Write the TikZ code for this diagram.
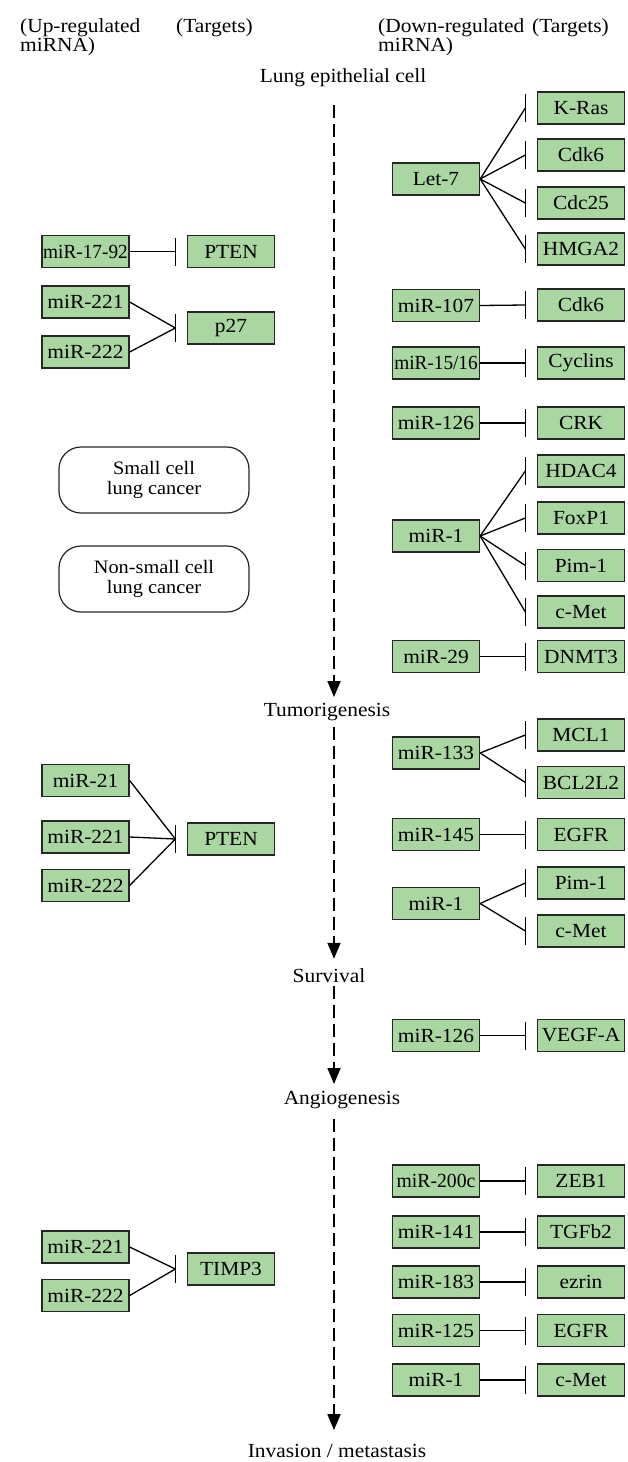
\documentclass[tikz,border=0pt]{standalone}
\usepackage{fontspec}
\setmainfont{Liberation Serif}[FakeStretch=1.07]
\usetikzlibrary{arrows.meta}
\definecolor{keggreen}{RGB}{170,214,162}

\begin{document}
\begin{tikzpicture}[x=1pt,y=-1pt,
    genebox/.style={draw=black!85,line width=1.3pt,fill=keggreen,minimum width=87pt,minimum height=32pt,inner sep=0pt,font=\fontsize{20}{22}\selectfont},
    stagebox/.style={draw=black!85,line width=1.2pt,rounded corners=22pt,minimum width=190pt,minimum height=66pt,align=center,font=\fontsize{19}{20}\selectfont},
    headtext/.style={anchor=north west,align=left,inner sep=0pt,font=\fontsize{20}{19}\selectfont},
    flowtext/.style={inner sep=0pt,font=\fontsize{20}{22}\selectfont},
    flow/.style={line width=1.8pt,dash pattern=on 13pt off 6pt,-{Triangle[width=13pt,length=16pt]}},
    link/.style={line width=1.3pt},
    tbar/.style={line width=1.5pt}]
            \useasboundingbox (0,0) rectangle (627,1462);
            % column headings
            \node[headtext] (uphead) at (20,18) {(Up-regulated\\miRNA)};
            \node[headtext] (uptgt) at (176,18) {(Targets)};
            \node[headtext] (downhead) at (378,18) {(Down-regulated\\miRNA)};
            \node[headtext] (downtgt) at (532,18) {(Targets)};
            % stages
            \coordinate (axis) at (334,0);
            \node[flowtext] (lung) at (343,78) {Lung epithelial cell};
            \node[flowtext] (tumor) at (327,712) {Tumorigenesis};
            \node[flowtext] (surv) at (329,976) {Survival};
            \node[flowtext] (angio) at (342,1100) {Angiogenesis};
            \node[flowtext] (invas) at (337,1451) {Invasion / metastasis};
            \draw[flow,shorten <=18pt,shorten >=6pt] (lung.south -| axis) -- (tumor.north -| axis);
            \draw[flow,shorten <=6pt,shorten >=10pt] (tumor.south -| axis) -- (surv.north -| axis);
            \draw[flow,shorten <=3pt,shorten >=7pt] (surv.south -| axis) -- (angio.north -| axis);
            \draw[flow,shorten <=10pt,shorten >=14pt] (angio.south -| axis) -- (invas.north -| axis);
            % cancer types
            \node[stagebox] (sclc) at (154,480) {Small cell\\lung cancer};
            \node[stagebox] (nsclc) at (154,579) {Non-small cell\\lung cancer};
            % up-regulated miRNA
            \node[genebox] (mir1792) at (85.5,251.5) {\scalebox{0.9}[1]{miR-17-92}};
            \node[genebox] (pten) at (231,251.5) {PTEN};
            \node[genebox] (mir221a) at (85.5,302) {miR-221};
            \node[genebox] (mir222a) at (85.5,352) {miR-222};
            \node[genebox] (p27) at (231,328) {p27};
            \node[genebox] (mir21) at (85.5,780.5) {miR-21};
            \node[genebox] (mir221b) at (85.5,837) {miR-221};
            \node[genebox] (mir222b) at (85.5,885.5) {miR-222};
            \node[genebox] (ptenb) at (231,839) {PTEN};
            \node[genebox] (mir221c) at (85.5,1247) {miR-221};
            \node[genebox] (mir222c) at (85.5,1295.5) {miR-222};
            \node[genebox] (timp3) at (231,1269) {TIMP3};
            % down-regulated miRNA
            \node[genebox] (let7) at (436,179) {Let-7};
            \node[genebox] (kras) at (581,108) {K-Ras};
            \node[genebox] (cdksix) at (581,155) {Cdk6};
            \node[genebox] (cdc25) at (581,203) {Cdc25};
            \node[genebox] (hmga2) at (581,249) {HMGA2};
            \node[genebox] (mir107) at (436,305.5) {miR-107};
            \node[genebox] (cdksixb) at (581,305) {Cdk6};
            \node[genebox] (mir1516) at (436,363) {\scalebox{0.9}[1]{miR-15/16}};
            \node[genebox] (cyclins) at (581,363) {Cyclins};
            \node[genebox] (mir126a) at (436,423) {miR-126};
            \node[genebox] (crk) at (581,423) {CRK};
            \node[genebox] (mir1a) at (436,536) {miR-1};
            \node[genebox] (hdac4) at (581,471) {HDAC4};
            \node[genebox] (foxp1) at (581,518) {FoxP1};
            \node[genebox] (pim1) at (581,565.5) {Pim-1};
            \node[genebox] (cmet) at (581,612) {c-Met};
            \node[genebox] (mir29) at (436,656.5) {miR-29};
            \node[genebox] (dnmt3) at (581,656.5) {DNMT3};
            \node[genebox] (mir133) at (436,753) {miR-133};
            \node[genebox] (mcl1) at (581,735) {MCL1};
            \node[genebox] (bcl2l2) at (581,782.5) {BCL2L2};
            \node[genebox] (mir145) at (436,834.5) {miR-145};
            \node[genebox] (egfr) at (581,834.5) {EGFR};
            \node[genebox] (mir1b) at (436,903.5) {miR-1};
            \node[genebox] (pim1b) at (581,883) {Pim-1};
            \node[genebox] (cmetb) at (581,931) {c-Met};
            \node[genebox] (mir126b) at (436,1035.5) {miR-126};
            \node[genebox] (vegfa) at (581,1035.5) {VEGF-A};
            \node[genebox] (mir200c) at (436,1181) {\scalebox{0.92}[1]{miR-200c}};
            \node[genebox] (zeb1) at (581,1181) {ZEB1};
            \node[genebox] (mir141) at (436,1232) {miR-141};
            \node[genebox] (tgfb2) at (581,1232) {TGFb2};
            \node[genebox] (mir183) at (436,1282) {miR-183};
            \node[genebox] (ezrin) at (581,1282) {ezrin};
            \node[genebox] (mir125) at (436,1330.5) {miR-125};
            \node[genebox] (egfrb) at (581,1330.5) {EGFR};
            \node[genebox] (mir1c) at (436,1380) {miR-1};
            \node[genebox] (cmetc) at (581,1380) {c-Met};
            % inhibition bars in front of each target
            \foreach \t in {pten,p27,ptenb,timp3,kras,cdksix,cdc25,hmga2,cdksixb,cyclins,crk,hdac4,foxp1,pim1,cmet,dnmt3,mcl1,bcl2l2,egfr,pim1b,cmetb,vegfa,zeb1,tgfb2,ezrin,egfrb,cmetc}{
                \coordinate (\t-bar) at ([xshift=-11.5pt]\t.west);
                \draw[tbar] ([yshift=14pt]\t-bar) -- ([yshift=-14pt]\t-bar);
            }
            % miRNA -| target
            \foreach \m/\t in {mir1792/pten,mir221a/p27,mir222a/p27,mir21/ptenb,mir221b/ptenb,mir222b/ptenb,mir221c/timp3,mir222c/timp3,
                let7/kras,let7/cdksix,let7/cdc25,let7/hmga2,mir107/cdksixb,mir1516/cyclins,mir126a/crk,
                mir1a/hdac4,mir1a/foxp1,mir1a/pim1,mir1a/cmet,mir29/dnmt3,mir133/mcl1,mir133/bcl2l2,mir145/egfr,
                mir1b/pim1b,mir1b/cmetb,mir126b/vegfa,mir200c/zeb1,mir141/tgfb2,mir183/ezrin,mir125/egfrb,mir1c/cmetc}
                \draw[link] (\m.east) -- (\t-bar);
        \end{tikzpicture}
\end{document}
